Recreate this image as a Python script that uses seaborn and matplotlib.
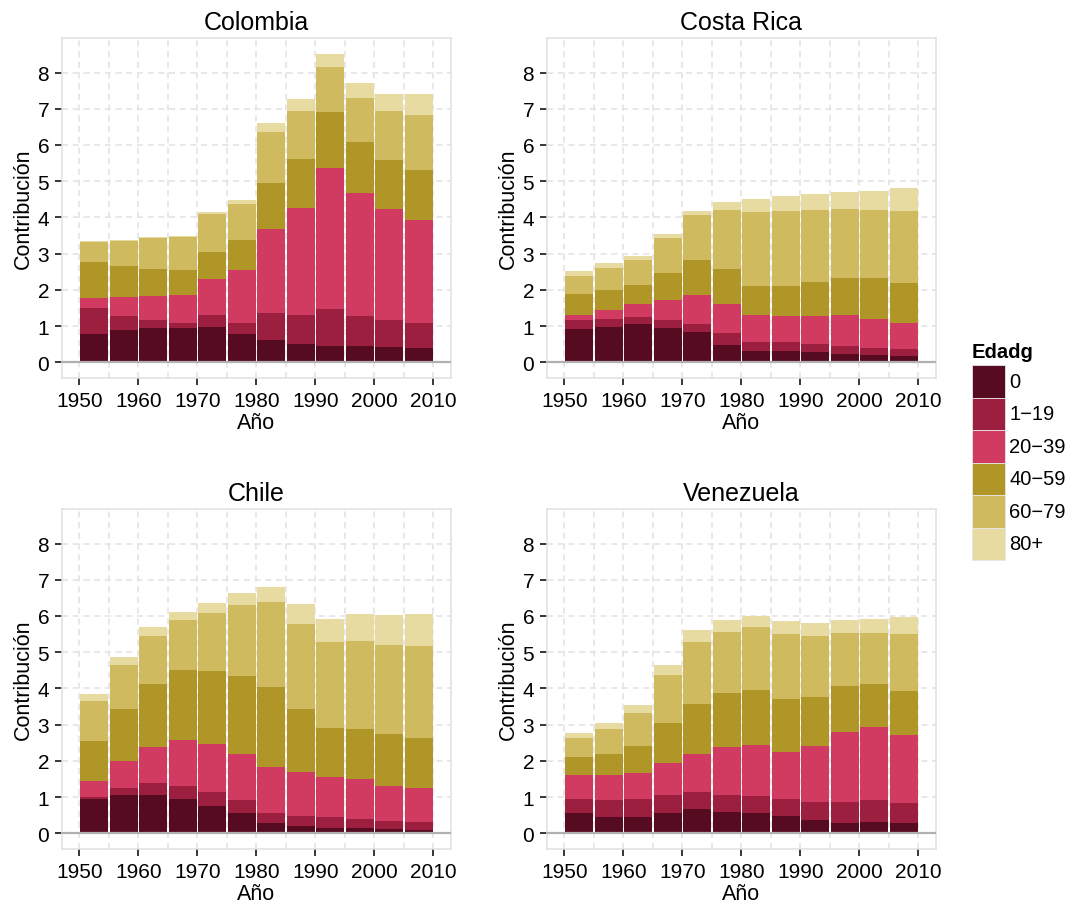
import numpy as np
import pandas as pd
import matplotlib
matplotlib.use("Agg")
import matplotlib.pyplot as plt
from matplotlib.patches import Rectangle
from matplotlib.ticker import MultipleLocator
import seaborn as sns

# Bar centres (5-year periods)
years = [1952.5, 1957.5, 1962.5, 1967.5, 1972.5, 1977.5,
         1982.5, 1987.5, 1992.5, 1997.5, 2002.5, 2007.5]

age_groups = ["0", "1\u221219", "20\u221239", "40\u221259", "60\u221279", "80+"]
group_colors = ["#570b20", "#9c1f3f", "#d23b61", "#af9626", "#cfba5f", "#e8dba1"]

# Contribution of each age group, per period
colombia = [
    [0.79, 0.90, 0.95, 0.95, 0.98, 0.79, 0.62, 0.51, 0.45, 0.45, 0.43, 0.40],
    [0.72, 0.39, 0.23, 0.13, 0.33, 0.29, 0.75, 0.80, 1.03, 0.84, 0.75, 0.69],
    [0.28, 0.52, 0.65, 0.79, 1.00, 1.46, 2.31, 2.95, 3.89, 3.39, 3.05, 2.84],
    [0.97, 0.84, 0.76, 0.69, 0.75, 0.83, 1.27, 1.36, 1.53, 1.41, 1.36, 1.38],
    [0.55, 0.69, 0.83, 0.91, 1.03, 1.00, 1.42, 1.33, 1.25, 1.22, 1.36, 1.53],
    [0.05, 0.05, 0.03, 0.03, 0.05, 0.11, 0.25, 0.31, 0.36, 0.39, 0.45, 0.56],
]
costa_rica = [
    [0.91, 0.99, 1.05, 0.96, 0.85, 0.49, 0.32, 0.32, 0.30, 0.24, 0.21, 0.19],
    [0.25, 0.20, 0.19, 0.20, 0.20, 0.31, 0.25, 0.23, 0.22, 0.20, 0.20, 0.19],
    [0.14, 0.25, 0.36, 0.55, 0.80, 0.80, 0.73, 0.72, 0.75, 0.86, 0.80, 0.72],
    [0.58, 0.55, 0.53, 0.75, 0.97, 0.97, 0.80, 0.83, 0.94, 1.02, 1.11, 1.09],
    [0.50, 0.61, 0.69, 0.98, 1.25, 1.64, 2.06, 2.09, 2.00, 1.92, 1.89, 2.00],
    [0.14, 0.14, 0.12, 0.11, 0.12, 0.23, 0.36, 0.41, 0.45, 0.47, 0.53, 0.61],
]
chile = [
    [0.96, 1.05, 1.05, 0.96, 0.77, 0.57, 0.30, 0.21, 0.16, 0.16, 0.13, 0.10],
    [0.04, 0.19, 0.33, 0.36, 0.36, 0.34, 0.27, 0.28, 0.30, 0.25, 0.22, 0.22],
    [0.44, 0.75, 1.00, 1.25, 1.33, 1.28, 1.25, 1.20, 1.09, 1.08, 0.97, 0.92],
    [1.11, 1.45, 1.75, 1.95, 2.03, 2.16, 2.23, 1.75, 1.36, 1.39, 1.42, 1.39],
    [1.11, 1.22, 1.31, 1.36, 1.58, 1.95, 2.33, 2.33, 2.36, 2.44, 2.47, 2.53],
    [0.19, 0.22, 0.25, 0.22, 0.28, 0.33, 0.42, 0.55, 0.64, 0.73, 0.81, 0.89],
]
venezuela = [
    [0.55, 0.46, 0.44, 0.57, 0.66, 0.60, 0.57, 0.49, 0.38, 0.30, 0.32, 0.30],
    [0.39, 0.45, 0.50, 0.48, 0.47, 0.47, 0.45, 0.45, 0.50, 0.58, 0.59, 0.55],
    [0.66, 0.69, 0.72, 0.89, 1.06, 1.31, 1.42, 1.30, 1.53, 1.92, 2.03, 1.86],
    [0.50, 0.59, 0.75, 1.11, 1.38, 1.50, 1.52, 1.47, 1.36, 1.27, 1.19, 1.23],
    [0.53, 0.69, 0.91, 1.33, 1.70, 1.69, 1.73, 1.78, 1.67, 1.45, 1.39, 1.55],
    [0.14, 0.17, 0.23, 0.28, 0.33, 0.31, 0.30, 0.36, 0.38, 0.36, 0.39, 0.47],
]

countries = ["Colombia", "Costa Rica", "Chile", "Venezuela"]
country_values = [colombia, costa_rica, chile, venezuela]

rows = []
for name, table in zip(countries, country_values):
    for grp, vals in zip(age_groups, table):
        for yr, v in zip(years, vals):
            rows.append({"pais": name, "Año": yr, "Edadg": grp, "Contribución": v})
df = pd.DataFrame(rows)

sns.set_theme(style="white")
plt.rcParams["font.family"] = ["Liberation Sans", "DejaVu Sans"]
plt.rcParams["text.color"] = "black"
plt.rcParams["axes.labelcolor"] = "black"
plt.rcParams["axes.titlecolor"] = "black"

W, H = 1068, 903
fig = plt.figure(figsize=(W / 100, H / 100), dpi=100)

ax_w, ax_h = 0.3645, 0.3760
positions = {
    "Colombia": (0.0578, 0.5803),
    "Costa Rica": (0.5119, 0.5803),
    "Chile": (0.0578, 0.0587),
    "Venezuela": (0.5119, 0.0587),
}

palette = dict(zip(age_groups, group_colors))
grid_color = "#e2e2e2"

for name in countries:
    left, bottom = positions[name]
    ax = fig.add_axes([left, bottom, ax_w, ax_h])
    sub = df[df["pais"] == name]
    # histplot with weights stacks the groups; the last hue level sits at the bottom
    sns.histplot(
        data=sub, x="Año", weights="Contribución", hue="Edadg",
        hue_order=age_groups[::-1], palette=palette,
        multiple="stack", binwidth=5, binrange=(1950, 2010), shrink=0.95,
        alpha=1, linewidth=0, legend=False, ax=ax,
    )
    ax.axhline(0, color="#b0b0b0", linewidth=1.6, zorder=3)

    ax.set_xlim(1947, 2013)
    ax.set_ylim(-0.43, 8.94)
    ax.set_xticks(np.arange(1950, 2011, 10))
    ax.xaxis.set_minor_locator(MultipleLocator(5))
    ax.set_yticks(np.arange(0, 9, 1))
    ax.set_axisbelow(True)
    ax.grid(True, which="both", axis="x", linestyle=(0, (4, 3)), color=grid_color, linewidth=1.1)
    ax.grid(True, which="major", axis="y", linestyle=(0, (4, 3)), color=grid_color, linewidth=1.1)

    ax.tick_params(which="major", direction="out", length=5, width=1.1, color="black",
                   labelsize=15, labelcolor="black", bottom=True, left=True)
    ax.tick_params(axis="x", which="major", pad=4.5)
    ax.tick_params(axis="y", which="major", pad=4)
    ax.tick_params(which="minor", length=0)
    for sp in ax.spines.values():
        sp.set_color("#e0e0e0")
        sp.set_linewidth(1.1)

    ax.set_title(name, fontsize=18, pad=7)
    ax.set_xlabel("Año", fontsize=15.5, labelpad=1)
    ax.set_ylabel("Contribución", fontsize=15.5, labelpad=2.5)

# Legend panel, laid out in figure pixel units
lx0, lx1, ly0, ly1 = 962, 1068, 335, 575
lax = fig.add_axes([lx0 / W, 1 - ly1 / H, (lx1 - lx0) / W, (ly1 - ly0) / H])
lax.set_xlim(lx0, lx1)
lax.set_ylim(ly1, ly0)
lax.axis("off")
lax.text(972, 352, "Edadg", fontsize=14.5, fontweight="bold", ha="left", va="center")
key_top, key_h, key_x, key_w = 366.0, 32.5, 971.7, 33.3
for i, (label, color) in enumerate(zip(age_groups, group_colors)):
    y = key_top + i * key_h
    lax.add_patch(Rectangle((key_x, y), key_w, key_h, facecolor=color,
                            edgecolor="#e6e6e6", linewidth=0.6))
    lax.text(key_x + key_w + 4, y + key_h / 2, label, fontsize=14.5,
             ha="left", va="center")

fig.savefig("out.png", dpi=100)
